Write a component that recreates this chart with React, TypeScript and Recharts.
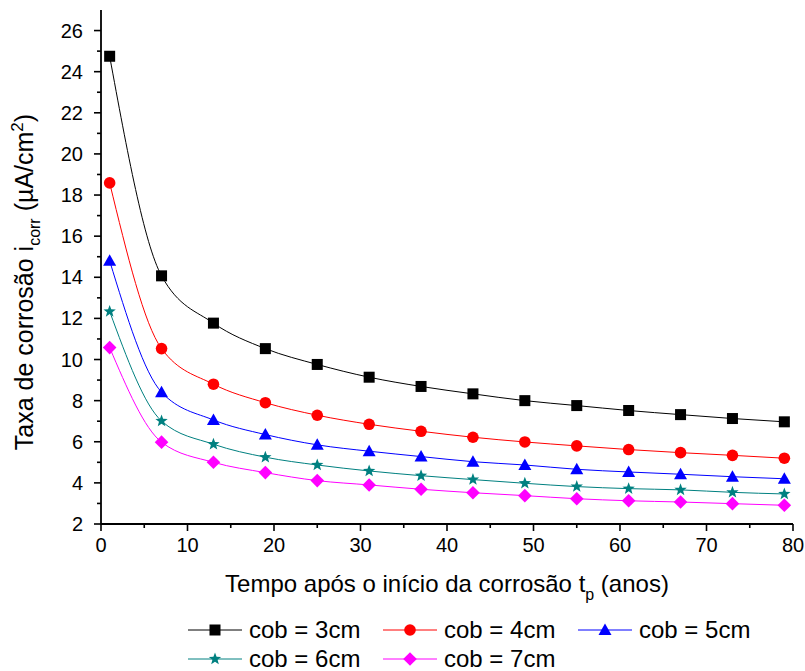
import React from 'react';
import { LineChart, Line, XAxis, YAxis, Label } from 'recharts';

// tempo após o início da corrosão (anos)
const tempo = [1, 7, 13, 19, 25, 31, 37, 43, 49, 55, 61, 67, 73, 79];

// taxa de corrosão i_corr (µA/cm²) por cobrimento
const cob3 = [24.75, 14.07, 11.77, 10.53, 9.76, 9.14, 8.69, 8.33, 8.0, 7.76, 7.52, 7.32, 7.13, 6.97];
const cob4 = [18.59, 10.53, 8.8, 7.9, 7.29, 6.85, 6.51, 6.22, 5.99, 5.8, 5.62, 5.47, 5.34, 5.2];
const cob5 = [14.8, 8.41, 7.06, 6.35, 5.85, 5.54, 5.28, 5.03, 4.87, 4.66, 4.53, 4.42, 4.3, 4.2];
const cob6 = [12.34, 7.01, 5.88, 5.25, 4.87, 4.58, 4.35, 4.16, 3.98, 3.82, 3.72, 3.66, 3.54, 3.46];
const cob7 = [10.58, 5.98, 5.0, 4.5, 4.11, 3.9, 3.69, 3.52, 3.38, 3.23, 3.13, 3.07, 2.99, 2.91];

const xTicks = [0, 5, 10, 15, 20, 25, 30, 35, 40, 45, 50, 55, 60, 65, 70, 75, 80];
const yTicks = [2, 3, 4, 5, 6, 7, 8, 9, 10, 11, 12, 13, 14, 15, 16, 17, 18, 19, 20, 21, 22, 23, 24, 25, 26];

const SERIES = [
  { key: 'c3', name: 'cob = 3cm', values: cob3, line: '#000000', fill: '#000000', shape: 'square' },
  { key: 'c4', name: 'cob = 4cm', values: cob4, line: '#ff0000', fill: '#ff0000', shape: 'circle' },
  { key: 'c5', name: 'cob = 5cm', values: cob5, line: '#0000ff', fill: '#0000ff', shape: 'triangle' },
  { key: 'c6', name: 'cob = 6cm', values: cob6, line: '#008080', fill: '#008080', shape: 'star' },
  { key: 'c7', name: 'cob = 7cm', values: cob7, line: '#ff00ff', fill: '#ff00ff', shape: 'diamond' },
];

const data = tempo.map((t, i) => {
  const row: any = { t };
  SERIES.forEach((s) => { row[s.key] = s.values[i]; });
  return row;
});

const FONT = '"Liberation Sans", Arial, sans-serif';
const TICK_SIZE = 7;
const Y_MARGIN = 11;
const X_MARGIN = 7;

function Marker({ cx, cy, shape, color }: any) {
  if (cx == null || cy == null) return null;
  switch (shape) {
    case 'square':
      return <rect x={cx - 5.5} y={cy - 5.5} width={11} height={11} fill={color} />;
    case 'circle':
      return <circle cx={cx} cy={cy} r={5.8} fill={color} />;
    case 'triangle':
      return <polygon points={`${cx},${cy - 6.5} ${cx + 6.5},${cy + 5} ${cx - 6.5},${cy + 5}`} fill={color} />;
    case 'diamond':
      return <polygon points={`${cx},${cy - 6.8} ${cx + 6.8},${cy} ${cx},${cy + 6.8} ${cx - 6.8},${cy}`} fill={color} />;
    case 'star': {
      const pts: string[] = [];
      for (let k = 0; k < 10; k++) {
        const r = k % 2 === 0 ? 6.5 : 2.7;
        const a = -Math.PI / 2 + (k * Math.PI) / 5;
        pts.push(`${cx + r * Math.cos(a)},${cy + r * Math.sin(a)}`);
      }
      return <polygon points={pts.join(' ')} fill={color} />;
    }
  }
  return null;
}

const YTick = ({ x, y, payload }: any) => {
  const v = payload.value;
  const major = v % 2 === 0;
  const ax = x + TICK_SIZE + Y_MARGIN;
  return (
    <g>
      <line x1={ax} x2={ax - (major ? 7 : 4)} y1={y} y2={y} stroke="#000" strokeWidth={1.6} />
      {major && (
        <text x={x} y={y} dy="0.35em" textAnchor="end" fontSize={20} fontFamily={FONT} fill="#000">
          {v}
        </text>
      )}
    </g>
  );
};

const XTick = ({ x, y, payload }: any) => {
  const v = payload.value;
  const major = v % 10 === 0;
  const ay = y - TICK_SIZE - X_MARGIN;
  return (
    <g>
      <line x1={x} x2={x} y1={ay} y2={ay + (major ? 7 : 4)} stroke="#000" strokeWidth={1.6} />
      {major && (
        <text x={x} y={y} dy="0.71em" textAnchor="middle" fontSize={20} fontFamily={FONT} fill="#000">
          {v}
        </text>
      )}
    </g>
  );
};

const XTitle = () => (
  <text x={447} y={592} textAnchor="middle" fontSize={24} fontFamily={FONT} fill="#000">
    Tempo após o início da corrosão t
    <tspan dy={8} fontSize={16}>p</tspan>
    <tspan dy={-8}> (anos)</tspan>
  </text>
);

const YTitle = () => (
  <text
    x={286}
    y={0}
    transform="translate(33, 568) rotate(-90)"
    textAnchor="middle"
    fontSize={25}
    fontFamily={FONT}
    fill="#000"
  >
    Taxa de corrosão i
    <tspan dy={7} fontSize={16}>corr</tspan>
    <tspan dy={-7}>{'  (µA/cm'}</tspan>
    <tspan dy={-10} fontSize={17}>2</tspan>
    <tspan dy={10}>)</tspan>
  </text>
);

function LegendBox() {
  const cols = [188, 383, 578];
  const rows = [630, 659];
  return (
    <>
      {SERIES.map((s, i) => {
        const left = cols[i % 3];
        const top = rows[Math.floor(i / 3)];
        return (
          <div
            key={s.key}
            style={{ position: 'absolute', left, top: top - 11, height: 22, display: 'flex', alignItems: 'center' }}
          >
            <svg width={56} height={22} style={{ display: 'block' }}>
              <line x1={0} x2={54} y1={11} y2={11} stroke={s.line} strokeWidth={1} />
              <Marker cx={27} cy={11} shape={s.shape} color={s.fill} />
            </svg>
            <span
              style={{
                marginLeft: 5,
                fontSize: 24,
                lineHeight: '22px',
                fontFamily: FONT,
                color: '#000',
                whiteSpace: 'nowrap',
              }}
            >
              {s.name}
            </span>
          </div>
        );
      })}
    </>
  );
}

export default function App() {
  return (
    <div style={{ position: 'absolute', left: 0, top: 0, width: 805, height: 671, background: '#fff', overflow: 'hidden' }}>
      <LineChart width={805} height={671} data={data} margin={{ top: 10, right: 12, left: 41, bottom: 107 }}>
        <XAxis
          dataKey="t"
          type="number"
          domain={[0, 80]}
          ticks={xTicks}
          interval={0}
          allowDataOverflow
          height={40}
          tickSize={TICK_SIZE}
          tickMargin={X_MARGIN}
          tickLine={false}
          tick={<XTick />}
          axisLine={{ stroke: '#000', strokeWidth: 1.8 }}
        >
          <Label content={<XTitle />} />
        </XAxis>
        <YAxis
          type="number"
          domain={[2, 27]}
          ticks={yTicks}
          interval={0}
          allowDataOverflow
          width={60}
          tickSize={TICK_SIZE}
          tickMargin={Y_MARGIN}
          tickLine={false}
          tick={<YTick />}
          axisLine={{ stroke: '#000', strokeWidth: 1.8 }}
        >
          <Label content={<YTitle />} />
        </YAxis>
        {SERIES.map((s) => (
          <Line
            key={s.key}
            type="monotone"
            dataKey={s.key}
            name={s.name}
            stroke={s.line}
            strokeWidth={1}
            isAnimationActive={false}
            activeDot={false}
            dot={(p: any) => <Marker key={`${s.key}-${p.index}`} cx={p.cx} cy={p.cy} shape={s.shape} color={s.fill} />}
          />
        ))}
      </LineChart>
      <LegendBox />
    </div>
  );
}
